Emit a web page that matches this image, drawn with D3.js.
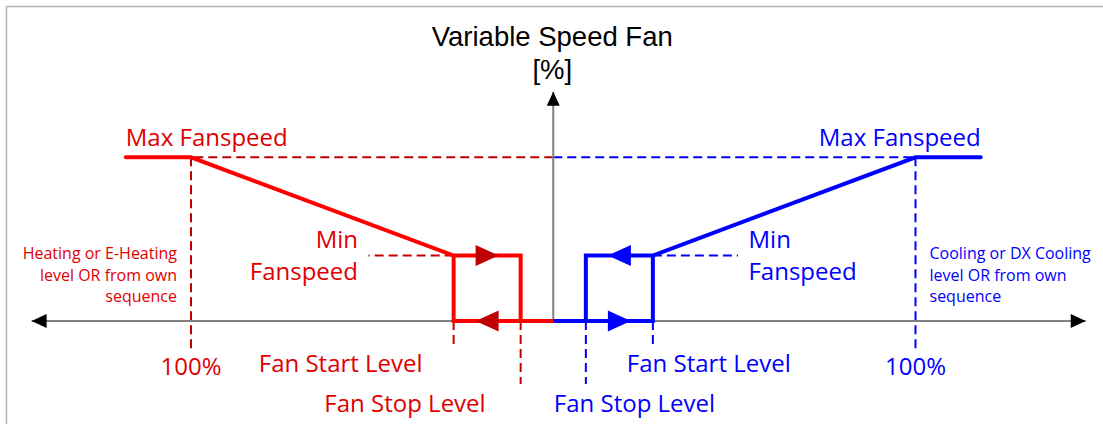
<!DOCTYPE html>
<html>
<head>
<meta charset="utf-8">
<script src="https://cdn.jsdelivr.net/npm/d3@7"></script>
<style>
  html, body { margin: 0; padding: 0; background: #fff; }
  svg { display: block; }
</style>
</head>
<body>
<svg id="chart" width="1103" height="424"></svg>
<script>
// Fan speed sequence: signal level in % (heating to the left, cooling to the right)
const sides = ["heating", "cooling"];
const sideSign = [-1, 1];
const sideColor = ["#ff0000", "#0000ff"];
const sideTextColor = ["#e00000", "#0000ff"];
const sideArrowColor = ["#c00000", "#0000ff"];
const sideDashColor = ["#c00000", "#0000ff"];

// Fan speed levels [%]
const maxFanspeed = 100;
const minFanspeed = 40;
// Signal levels [%]
const fullLevel = 100;
const fanStartLevel = 27.5;
const fanStopLevel = 9;
const maxPlateauEnd = 118;
const minGuideEnd = 51;
const axisExtent = [-144, 147];
const yAxisTop = 140;

// Labels
const titleLines = ["Variable Speed Fan", "[%]"];
const maxLabel = "Max Fanspeed";
const minLabel = ["Min", "Fanspeed"];
const fullLabel = "100%";
const startLabel = "Fan Start Level";
const stopLabel = "Fan Stop Level";
const sourceLabels = [
  ["Heating or E-Heating", "level OR from own", "sequence"],
  ["Cooling or DX Cooling", "level OR from own", "sequence"]
];

const svg = d3.select("#chart");
const x = d3.scaleLinear().domain([-fullLevel, fullLevel]).range([191, 915.5]);
const y = d3.scaleLinear().domain([0, maxFanspeed]).range([321, 157.3]);
const line = d3.line().x(d => x(d[0])).y(d => y(d[1]));

const labelFont = "'Open Sans', 'Noto Sans', sans-serif";

// frame
svg.append("rect")
  .attr("x", 6.5).attr("y", 6.5)
  .attr("width", 1120).attr("height", 440)
  .attr("fill", "none").attr("stroke", "#b4b4b4").attr("stroke-width", 1.5);

// title
svg.append("g").selectAll("text").data(titleLines).join("text")
  .attr("x", x(0) - 1)
  .attr("y", (d, i) => 45.7 + i * 33.3)
  .attr("text-anchor", "middle")
  .attr("font-family", "'Liberation Sans', Arial, sans-serif")
  .attr("font-size", 27.5)
  .attr("fill", "#000")
  .text(d => d);

// dashed guides
const guides = svg.append("g").attr("fill", "none").attr("stroke-width", 2).attr("stroke-dasharray", "9,5");
sides.forEach((s, i) => {
  const k = sideSign[i];
  const c = sideDashColor[i];
  // max fan speed reference
  guides.append("path").attr("stroke", c)
    .attr("d", line([[0, maxFanspeed], [k * fullLevel, maxFanspeed]]));
  // 100% signal
  guides.append("path").attr("stroke", c)
    .attr("d", line([[k * fullLevel, maxFanspeed], [k * fullLevel, -17]]));
  // min fan speed reference
  guides.append("path").attr("stroke", c)
    .attr("d", line([[k * fanStartLevel, minFanspeed], [k * minGuideEnd, minFanspeed]]));
  // start / stop level markers
  guides.append("path").attr("stroke", c)
    .attr("d", line([[k * fanStartLevel, 0], [k * fanStartLevel, -14]]));
  guides.append("path").attr("stroke", c)
    .attr("d", line([[k * fanStopLevel, 0], [k * fanStopLevel, -38.5]]));
});

// axes
const axisColor = "#808080";
const axes = svg.append("g");
axes.append("path")
  .attr("d", line([[axisExtent[0], 0], [axisExtent[1], 0]]))
  .attr("stroke", axisColor).attr("stroke-width", 2)
  .attr("fill", "none");
axes.append("path")
  .attr("d", line([[0, 0], [0, yAxisTop]]))
  .attr("stroke", axisColor).attr("stroke-width", 2).attr("fill", "none");

// axis arrowheads
const ax0 = x(axisExtent[0]), ax1 = x(axisExtent[1]), ay0 = y(0), ayTop = y(yAxisTop);
axes.append("path").attr("fill", "#000")
  .attr("d", `M${ax0},${ay0} L${ax0 + 15},${ay0 - 7} L${ax0 + 15},${ay0 + 7} Z`);
axes.append("path").attr("fill", "#000")
  .attr("d", `M${ax1},${ay0} L${ax1 - 15},${ay0 - 7} L${ax1 - 15},${ay0 + 7} Z`);
axes.append("path").attr("fill", "#000")
  .attr("d", `M${x(0)},${ayTop} L${x(0) - 6.5},${ayTop + 14} L${x(0) + 6.5},${ayTop + 14} Z`);

// fan speed curves with hysteresis boxes
const curves = svg.append("g").attr("fill", "none").attr("stroke-width", 4)
  .attr("stroke-linejoin", "miter").attr("stroke-linecap", "round");
sides.forEach((s, i) => {
  const k = sideSign[i];
  curves.append("path").attr("stroke", sideColor[i])
    .attr("d", line([
      [k * maxPlateauEnd, maxFanspeed],
      [k * fullLevel, maxFanspeed],
      [k * fanStartLevel, minFanspeed],
      [k * fanStopLevel, minFanspeed],
      [k * fanStopLevel, 0]
    ]));
  curves.append("path").attr("stroke", sideColor[i]).attr("stroke-linecap", "butt")
    .attr("d", line([
      [k * fanStartLevel, minFanspeed],
      [k * fanStartLevel, 0],
      [0, 0]
    ]));
});

// direction arrows on the hysteresis boxes
const arrows = [];
sides.forEach((s, i) => {
  const k = sideSign[i];
  const mid = k * (fanStartLevel + fanStopLevel) / 2;
  // switching on at min speed moves toward the axis, off along the axis moves outward
  arrows.push({ side: i, cx: mid, level: minFanspeed, dir: -k });
  arrows.push({ side: i, cx: mid, level: 0, dir: k });
});
svg.append("g").selectAll("path").data(arrows).join("path")
  .attr("fill", d => sideArrowColor[d.side])
  .attr("d", d => {
    const cx = x(d.cx), cy = y(d.level), w = 11.5, h = 10.5;
    return `M${cx + d.dir * w},${cy} L${cx - d.dir * w},${cy - h} L${cx - d.dir * w},${cy + h} Z`;
  });

// labels
const labels = svg.append("g").attr("font-family", labelFont);
sides.forEach((s, i) => {
  const k = sideSign[i];
  const col = sideTextColor[i];
  const outer = i === 0 ? "start" : "end";
  const inner = i === 0 ? "end" : "start";

  labels.append("text")
    .attr("x", x(k * maxPlateauEnd)).attr("y", y(maxFanspeed) - 11.6)
    .attr("text-anchor", outer).attr("font-size", 24).attr("fill", col)
    .text(maxLabel);

  labels.append("g").selectAll("text").data(minLabel).join("text")
    .attr("x", x(k * minGuideEnd) + k * 10.5)
    .attr("y", (d, j) => y(minFanspeed) - 7.8 + j * 32.6)
    .attr("text-anchor", inner).attr("font-size", 24).attr("fill", col)
    .text(d => d);

  labels.append("g").selectAll("text").data(sourceLabels[i]).join("text")
    .attr("x", x(k * fullLevel) + k * 14)
    .attr("y", (d, j) => 259 + j * 21.7)
    .attr("text-anchor", i === 0 ? "end" : "start").attr("font-size", 16).attr("fill", col)
    .text(d => d);

  labels.append("text")
    .attr("x", x(k * fullLevel)).attr("y", 375.3)
    .attr("text-anchor", "middle").attr("font-size", 24).attr("fill", col)
    .text(fullLabel);
});

// start / stop level labels
labels.append("text")
  .attr("x", x(-fanStartLevel) - 31).attr("y", 372)
  .attr("text-anchor", "end").attr("font-size", 24).attr("fill", sideTextColor[0])
  .text(startLabel);
labels.append("text")
  .attr("x", x(fanStartLevel) - 26).attr("y", 372)
  .attr("text-anchor", "start").attr("font-size", 24).attr("fill", sideTextColor[1])
  .text(startLabel);
labels.append("text")
  .attr("x", x(-fanStopLevel) - 35).attr("y", 412)
  .attr("text-anchor", "end").attr("font-size", 24).attr("fill", sideTextColor[0])
  .text(stopLabel);
labels.append("text")
  .attr("x", x(fanStopLevel) - 32).attr("y", 412)
  .attr("text-anchor", "start").attr("font-size", 24).attr("fill", sideTextColor[1])
  .text(stopLabel);
</script>
</body>
</html>
